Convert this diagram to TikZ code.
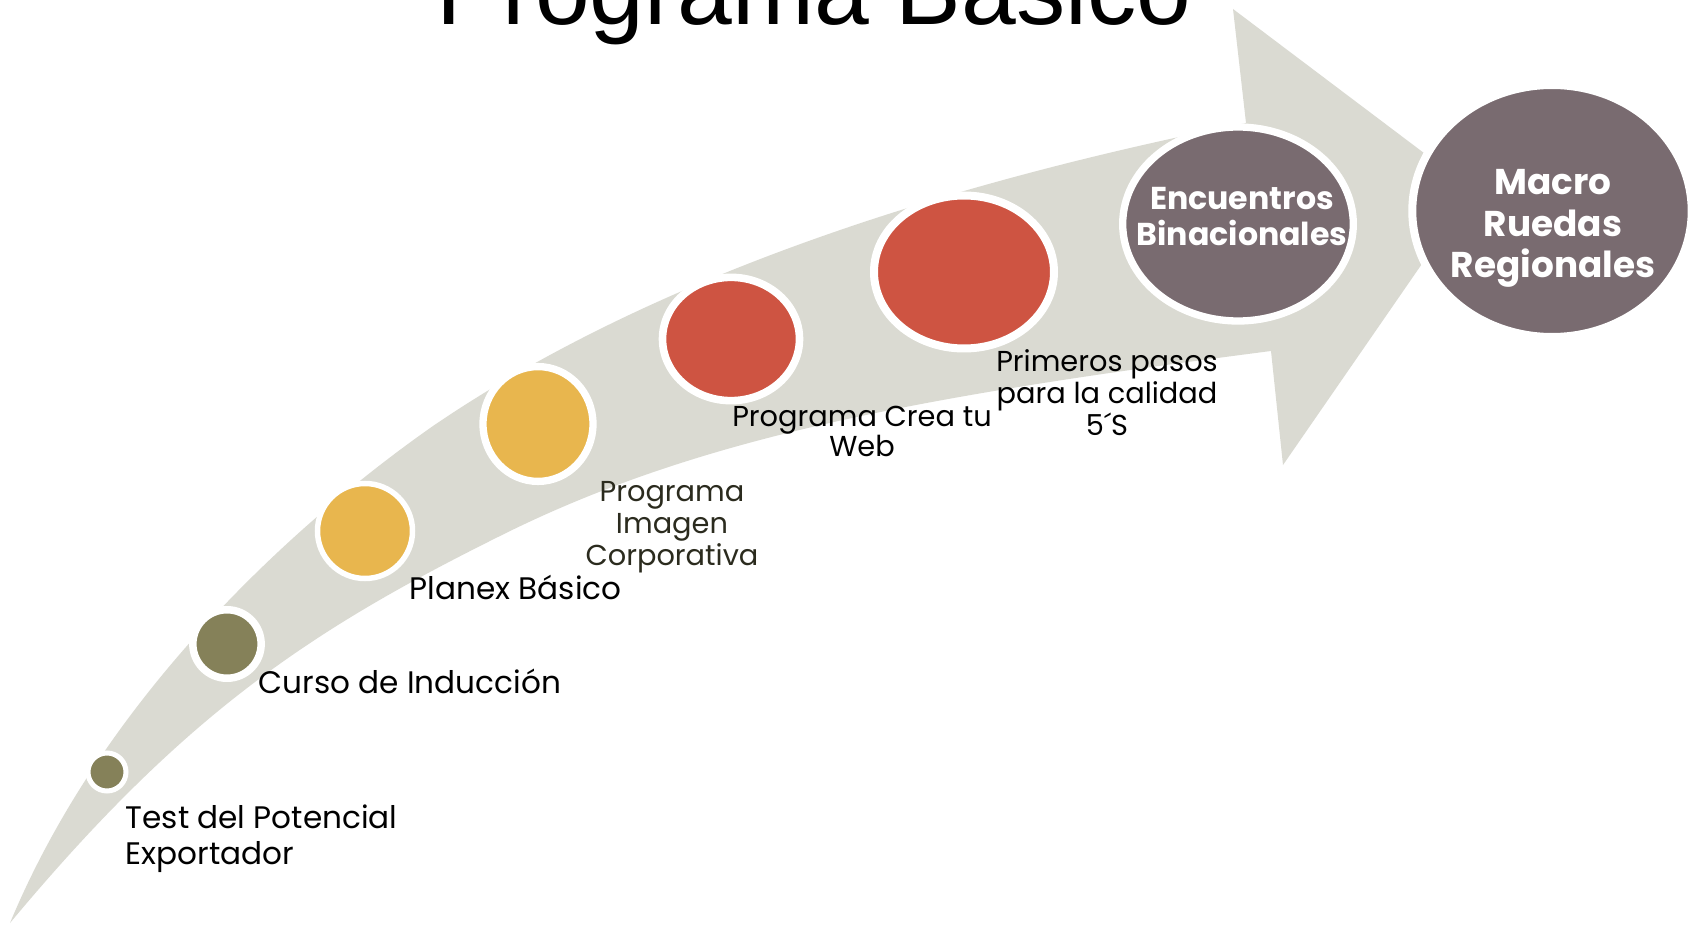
\documentclass[tikz,border=0pt]{standalone}
\usepackage{fontspec}
\setmainfont{Poppins}
\newfontfamily\titlefont{Liberation Sans}
\usetikzlibrary{shapes.geometric}

\definecolor{bandgray}{HTML}{DADAD2}
\definecolor{olivedot}{HTML}{858159}
\definecolor{yellowdot}{HTML}{E8B64E}
\definecolor{reddot}{HTML}{CE5442}
\definecolor{mauvedot}{HTML}{796B70}
\definecolor{darktext}{HTML}{2B2B1E}

\begin{document}
\begin{tikzpicture}[x=0.1mm, y=-0.1mm,
    % Styles for the steps on the band
    sdot/.style={ellipse, draw=white, inner sep=0pt, outer sep=0pt},
    sdolive/.style={sdot, fill=olivedot},
    sdyellow/.style={sdot, fill=yellowdot},
    sdred/.style={sdot, fill=reddot},
    sdmauve/.style={sdot, fill=mauvedot},
    % Styles for the texts (multi-line ones sit on their last line)
    slbl/.style={inner sep=0pt, font=\fontsize{8.85}{10.2}\selectfont},
    slblc/.style={inner sep=0pt, align=center, font=\fontsize{8.2}{9}\selectfont},
    swhite/.style={inner sep=0pt, align=center, text=white, font=\bfseries\fontsize{9}{10.5}\selectfont}]

\useasboundingbox (0,0) rectangle (1698,926);
\clip (0,0) rectangle (1698,926);

% Title (cut by the top edge)
\node[inner sep=0pt, anchor=base west, font=\titlefont\fontsize{28}{30}\selectfont] (title) at (436,25) {Programa Básico};

% Curved arrow
\fill[bandgray] (10,923) .. controls (110,683) and (313,510) .. (433,426)
    .. controls (653,276) and (946,183) .. (1246,123) -- (1233,9) -- (1473,190)
    -- (1283,465) -- (1271,351) .. controls (923,396) and (700,436) .. (500,536)
    .. controls (311,630) and (185,713) .. cycle;

% Steps
\node[sdolive, line width=0.5mm, minimum width=3.8mm, minimum height=3.8mm] (test) at (107,772) {};
\node[sdolive, line width=0.75mm, minimum width=6.83mm, minimum height=6.85mm] (curso) at (227,644) {};
\node[sdyellow, line width=0.55mm, minimum width=9.5mm, minimum height=9.5mm] (planex) at (365,531) {};
\node[sdyellow, line width=0.73mm, minimum width=11mm, minimum height=11.48mm] (imagen) at (538,424) {};
\node[sdred, line width=0.76mm, minimum width=13.7mm, minimum height=12.33mm] (web) at (731,339) {};
\node[sdred, line width=0.8mm, minimum width=18mm, minimum height=15.3mm] (cinco) at (964,272) {};
\node[sdmauve, line width=0.73mm, minimum width=23.06mm, minimum height=19.4mm] (encuentros) at (1238,224) {};
\node[sdmauve, line width=0.8mm, minimum width=27.94mm, minimum height=25.2mm] (macro) at (1552,211) {};

% Labels
\node[slbl, anchor=base west, align=left] (test-l) at (125,864) {Test del Potencial\\Exportador};
\node[slbl, anchor=base west] (curso-l) at (258,693) {Curso de Inducción};
\node[slbl, anchor=base west] (planex-l) at (409,599) {Planex Básico};
\node[slblc, anchor=base, text=darktext] (imagen-l) at (672,565) {Programa\\Imagen\\Corporativa};
\node[slblc, anchor=base, font=\fontsize{8.2}{8.7}\selectfont] (web-l) at (862,457) {Programa Crea tu\\Web};
\node[slblc, anchor=base] (cinco-l) at (1107,435) {Primeros pasos\\para la calidad\\5´S};
\node[swhite, anchor=base] (encuentros-l) at (1242,246) {Encuentros\\Binacionales};
\node[swhite, anchor=base, font=\bfseries\fontsize{10.2}{11.9}\selectfont] (macro-l) at (1553,278) {Macro\\Ruedas\\Regionales};

\end{tikzpicture}
\end{document}
